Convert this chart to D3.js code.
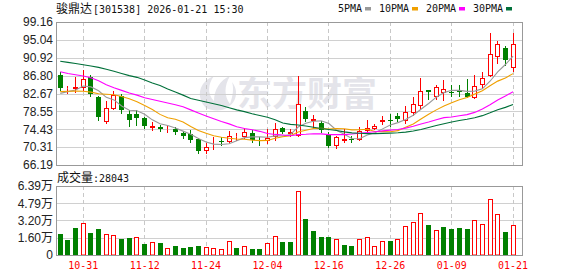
<!DOCTYPE html>
<html><head><meta charset="utf-8">
<script src="https://cdn.jsdelivr.net/npm/d3@7/dist/d3.min.js"></script>
<style>html,body{margin:0;padding:0;background:#fff;}svg{display:block;}</style>
</head><body>
<svg id="c" width="578" height="276"></svg>
<script>
const dates = ["10-28","10-29","10-30","10-31","11-03","11-04","11-05","11-06","11-07","11-10",
"11-11","11-12","11-13","11-14","11-17","11-18","11-19","11-20","11-21","11-24",
"11-25","11-26","11-27","11-28","12-01","12-02","12-03","12-04","12-05","12-08",
"12-09","12-10","12-11","12-12","12-15","12-16","12-17","12-18","12-19","12-22",
"12-23","12-24","12-25","12-26","12-29","12-30","12-31","01-05","01-06","01-07",
"01-08","01-09","01-12","01-13","01-14","01-15","01-16","01-19","01-20","01-21"];
const openP = [86.94,83.85,83.90,84.24,86.55,81.87,76.40,79.26,82.10,78.06,
78.00,76.96,75.00,75.02,74.45,74.50,73.64,73.34,72.18,69.65,
70.95,71.80,71.72,72.80,72.87,73.64,71.90,71.95,72.99,74.72,
73.50,73.11,78.64,76.60,75.80,73.34,70.80,71.90,72.10,72.25,
74.26,74.66,76.30,76.60,77.49,76.56,78.48,80.02,83.48,82.17,
83.09,83.00,83.30,82.90,81.94,84.80,87.00,91.25,93.10,88.80];
const highP = [87.70,84.40,86.41,88.09,86.94,82.17,81.01,83.14,82.56,78.87,
78.87,77.33,76.10,75.41,75.20,75.00,74.03,74.26,72.41,71.26,
72.71,72.64,74.10,73.60,74.83,74.20,72.70,74.57,75.87,74.90,
74.40,86.78,79.56,77.70,76.40,73.87,72.99,74.60,72.80,75.02,
76.45,75.60,77.40,77.90,78.25,79.68,81.87,86.25,83.50,84.63,
85.79,84.70,84.60,85.97,86.94,87.63,96.51,94.83,93.63,96.69];
const lowP = [83.48,82.72,83.10,83.48,82.10,76.56,75.94,79.00,78.11,75.18,
75.50,74.72,74.37,74.03,73.90,73.30,72.30,71.60,69.02,68.95,
69.81,70.80,71.40,71.90,72.34,71.40,70.80,71.26,71.95,73.60,
72.80,72.87,76.33,75.00,73.87,70.23,70.11,71.60,71.60,71.95,
74.03,74.40,75.60,75.20,76.40,75.87,77.72,79.10,81.36,81.41,
81.18,82.10,82.20,81.80,81.75,83.83,86.82,89.82,89.25,87.86];
const closeP = [84.01,83.90,84.10,85.95,82.49,77.26,79.26,82.26,78.87,76.56,
77.00,75.23,75.15,74.50,74.60,73.90,72.87,71.95,69.49,70.41,
71.10,71.70,72.87,72.95,73.87,71.95,71.70,72.53,74.44,73.80,
73.70,80.25,76.86,76.80,74.26,70.57,72.57,72.10,72.00,74.03,
74.83,75.25,76.50,76.50,76.73,78.48,80.18,83.32,83.09,84.10,
83.71,82.90,83.20,81.94,84.40,86.25,91.71,94.02,90.40,94.02];
const ma5 = [82.7,83.1,83.5,84.4,84.2,83.3,81.8,81.2,79.8,78.8,
78.7,77.9,76.6,75.7,75.3,74.7,74.0,73.3,72.3,71.5,
71.0,70.9,71.1,71.8,72.5,72.67,72.67,72.6,72.9,72.88,
73.23,74.94,75.81,76.28,76.37,75.75,74.21,73.26,72.3,72.25,
73.11,73.64,74.52,75.42,75.96,76.69,77.68,79.04,80.36,81.83,
82.88,83.42,83.4,83.17,83.23,83.74,85.5,87.66,89.36,91.28];
const ma10 = [83.1,83.2,83.25,83.2,83.0,82.6,82.5,82.4,82.0,81.47,
80.77,79.90,79.00,77.86,77.07,76.73,76.09,75.06,74.13,73.51,
72.92,72.57,72.34,72.18,72.11,71.92,71.80,71.86,72.35,72.69,
72.95,73.81,74.21,74.59,74.63,74.49,74.58,74.54,74.29,74.31,
74.43,73.93,73.89,73.86,74.11,74.90,75.66,76.78,77.89,78.90,
79.79,80.55,81.22,81.77,82.53,83.31,84.46,85.53,86.26,87.26];
const ma20 = [87.7,87.3,87.0,86.7,86.3,85.6,84.7,84.0,83.4,82.8,
82.3,81.7,81.3,80.9,80.5,80.1,79.6,78.9,78.2,77.49,
76.84,76.23,75.67,75.02,74.59,74.32,73.95,73.46,73.24,73.10,
72.94,73.19,73.27,73.39,73.37,73.20,73.19,73.20,73.32,73.50,
73.69,73.87,74.05,74.23,74.37,74.70,75.12,75.66,76.09,76.61,
77.11,77.24,77.56,77.81,78.32,79.10,80.06,81.16,82.08,83.08];
const ma30 = [90.1,89.85,89.6,89.3,89.0,88.7,88.25,87.8,87.3,86.8,
86.4,85.8,85.1,84.5,83.7,83.0,82.3,81.5,81.1,80.7,
80.3,79.9,79.4,78.9,78.5,78.0,77.6,77.2,76.6,75.89,
75.55,75.42,75.18,74.88,74.60,74.38,74.16,73.82,73.59,73.51,
73.43,73.43,73.48,73.55,73.62,73.77,74.01,74.39,74.84,75.30,
75.72,76.09,76.44,76.74,77.09,77.57,78.23,78.95,79.48,80.16];
const volume = [1.94,1.39,2.50,2.93,2.04,2.41,1.91,1.82,1.48,1.57,
1.64,1.02,1.17,1.11,0.62,0.83,0.65,0.74,0.83,0.71,
0.65,0.53,1.30,0.65,0.83,0.56,0.56,1.11,1.73,1.23,
1.23,5.90,3.33,2.22,1.67,1.67,1.45,0.93,0.83,1.45,
1.64,0.80,1.27,1.30,1.45,2.66,3.03,3.86,2.75,2.29,
2.56,2.38,2.47,2.38,3.21,2.84,5.16,3.77,2.13,2.8043];
const volUp = [0,0,0,1,0,0,1,1,0,0, 1,0,1,0,1,0,0,0,0,1, 1,1,1,0,1,0,0,1,1,0,
0,1,0,0,0,0,1,0,0,1, 1,1,1,0,1,1,1,1,0,1, 0,0,0,0,1,1,1,1,0,1];
const yTicks = [99.16,95.04,90.92,86.80,82.67,78.55,74.43,70.31,66.19];
const volTicks = [0,1.60,3.20,4.79,6.39];
const xTickDates = ["10-31","11-12","11-24","12-04","12-16","12-26","01-09","01-21"];
const titleName = "骏鼎达";
const titleRest = "[301538] 2026-01-21 15:30";
const legendNames = ["5PMA","10PMA","20PMA","30PMA"];
const volName = "成交量";
const volValueText = ":28043";

const RED = "#ff0000", GREEN = "#008000";
const maColors = ["#999999","#f0a000","#ff00ff","#00703a"];
const L = 56, R = 522, T = 22, B = 165, VT = 186, VB = 255;

const svg = d3.select("#c");
const x = d3.scaleBand().domain(dates).range([56.4, 516.9]);
const cx = d => x(d) + x.bandwidth() / 2;
const y = d3.scaleLinear().domain([66.19, 99.16]).range([B, T]);
const vy = d3.scaleLinear().domain([0, 6.39]).range([VB, VT]);
const px = v => Math.round(v) + 0.5;

// watermark
const wm = svg.append("g").attr("fill", "#e4e4ea");
wm.append("path").attr("d", "M206,108 C196,98 198,82 214,76 C208,84 207,94 214,101 C214,90 220,80 230,76 C224,86 224,96 230,104 C233,96 234,88 232,82 C240,92 236,106 222,110 C216,111 210,110 206,108 Z");
wm.append("text").attr("x", 237).attr("y", 106).attr("font-family", "Noto Sans CJK SC")
  .attr("font-weight", "bold").attr("font-size", 34).attr("textLength", 140)
  .attr("lengthAdjust", "spacingAndGlyphs").text("东方财富");

// horizontal grid
svg.append("g").selectAll("line").data(yTicks.slice(1, -1)).join("line")
  .attr("x1", L).attr("x2", R).attr("y1", d => px(y(d))).attr("y2", d => px(y(d)))
  .attr("stroke", "#d0d0d0");
svg.append("g").selectAll("line").data(volTicks.slice(1, -1)).join("line")
  .attr("x1", L).attr("x2", R).attr("y1", d => px(vy(d))).attr("y2", d => px(vy(d)))
  .attr("stroke", "#d0d0d0");
// vertical dashed grid
const vg = svg.append("g").attr("stroke", "#c8c8c8").attr("stroke-dasharray", "4,3");
xTickDates.forEach(d => {
  const xx = Math.floor(cx(d)) + 0.5;
  vg.append("line").attr("x1", xx).attr("x2", xx).attr("y1", T).attr("y2", B);
  vg.append("line").attr("x1", xx).attr("x2", xx).attr("y1", VT).attr("y2", VB);
});

// candles
const cg = svg.append("g");
dates.forEach((d, i) => {
  const o = openP[i], c = closeP[i], h = highP[i], l = lowP[i];
  const xc = Math.floor(cx(d)) + 0.5;
  if (c >= o) {
    const top = Math.round(y(c)) + 0.5, bot = Math.round(y(o)) + 0.5;
    cg.append("line").attr("x1", xc).attr("x2", xc).attr("y1", Math.round(y(h))).attr("y2", top).attr("stroke", RED);
    cg.append("line").attr("x1", xc).attr("x2", xc).attr("y1", bot).attr("y2", Math.round(y(l))+1).attr("stroke", RED);
    cg.append("rect").attr("x", xc - 2).attr("y", top).attr("width", 4).attr("height", Math.max(0, bot - top))
      .attr("fill", "#fff").attr("stroke", RED);
  } else {
    const top = Math.round(y(o)), bot = Math.round(y(c));
    cg.append("line").attr("x1", xc).attr("x2", xc).attr("y1", Math.round(y(h))).attr("y2", Math.round(y(l))+1).attr("stroke", GREEN);
    cg.append("rect").attr("x", xc - 2.5).attr("y", top).attr("width", 5).attr("height", Math.max(1, bot - top))
      .attr("fill", GREEN);
  }
});

// moving averages
const line = d3.line().x((v, i) => cx(dates[i])).y(v => y(v));
[ma5, ma10, ma20, ma30].forEach((arr, k) => {
  svg.append("path").datum(arr).attr("d", line).attr("fill", "none")
    .attr("stroke", maColors[k]).attr("stroke-width", 1.1);
});

// volume bars
const vb = svg.append("g");
dates.forEach((d, i) => {
  const xc = Math.floor(cx(d)) + 0.5;
  const top = Math.round(vy(volume[i]));
  if (volUp[i]) {
    vb.append("rect").attr("x", xc - 2).attr("y", top + 0.5).attr("width", 4).attr("height", VB - top - 0.5)
      .attr("fill", "#fff").attr("stroke", RED);
  } else {
    vb.append("rect").attr("x", xc - 2.5).attr("y", top).attr("width", 5).attr("height", VB - top)
      .attr("fill", GREEN);
  }
});

// borders
svg.append("rect").attr("x", L + 0.5).attr("y", T + 0.5).attr("width", R - L).attr("height", B - T)
  .attr("fill", "none").attr("stroke", "#999");
svg.append("rect").attr("x", L + 0.5).attr("y", VT + 0.5).attr("width", R - L).attr("height", VB - VT)
  .attr("fill", "none").attr("stroke", "#999");

// axes
const ya = svg.append("g").attr("transform", `translate(${L},0)`)
  .call(d3.axisLeft(y).tickValues(yTicks).tickSize(0).tickPadding(3).tickFormat(d3.format(".2f")));
const va = svg.append("g").attr("transform", `translate(${L},0)`)
  .call(d3.axisLeft(vy).tickValues(volTicks).tickSize(0).tickPadding(3)
    .tickFormat(d => d === 0 ? "0" : d3.format(".2f")(d) + "万"));
[ya, va].forEach(g => {
  g.select(".domain").remove();
  g.selectAll("text").attr("font-family", "'Liberation Sans', 'Noto Sans CJK SC', sans-serif")
    .attr("font-size", 12).attr("fill", "#222");
});
const xa = svg.append("g").attr("transform", `translate(0,${VB})`)
  .call(d3.axisBottom(x).tickValues(xTickDates).tickSize(0).tickPadding(6));
xa.select(".domain").remove();
xa.selectAll("text").attr("font-family", "'DejaVu Sans Mono', monospace").attr("font-size", 11)
  .attr("fill", RED).attr("textLength", 30).attr("lengthAdjust", "spacingAndGlyphs");

// title
svg.append("text").attr("x", 56).attr("y", 12.5).attr("font-family", "'Noto Sans CJK SC'")
  .attr("font-size", 12).attr("fill", "#111").text(titleName);
svg.append("text").attr("x", 93).attr("y", 12.5).attr("font-family", "'DejaVu Sans Mono'")
  .attr("font-size", 10).attr("fill", "#111").text(titleRest);

// legend
let lx = 338;
legendNames.forEach((n, k) => {
  svg.append("text").attr("x", lx).attr("y", 12.3).attr("font-family", "'DejaVu Sans Mono'")
    .attr("font-size", 10).attr("fill", "#111").text(n);
  const sq = lx + n.length * 6 + 3;
  svg.append("rect").attr("x", sq).attr("y", 7).attr("width", 6).attr("height", 3.5).attr("fill", maColors[k]);
  lx = sq + 14;
});

// volume label
svg.append("text").attr("x", 57).attr("y", 181.5).attr("font-family", "'Noto Sans CJK SC'")
  .attr("font-size", 12).attr("fill", "#111").text(volName);
svg.append("text").attr("x", 93).attr("y", 181.5).attr("font-family", "'DejaVu Sans Mono'")
  .attr("font-size", 10).attr("fill", "#111").text(volValueText);
</script>
</body></html>
